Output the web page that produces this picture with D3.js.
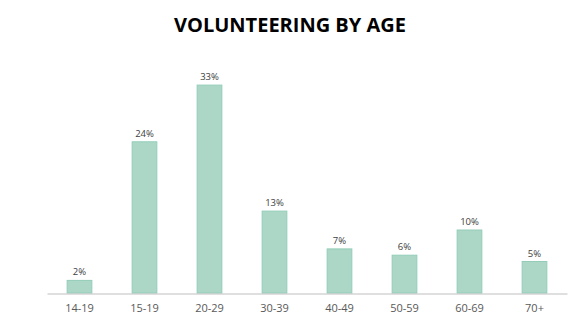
<!DOCTYPE html>
<html><head><meta charset="utf-8">
<script src="https://cdn.jsdelivr.net/npm/d3@7"></script>
<style>body{margin:0;background:#fff}svg{display:block}</style>
</head><body>
<script>
const categories = ["14-19","15-19","20-29","30-39","40-49","50-59","60-69","70+"];
const values = [2,24,33,13,7,6,10,5];
const valueLabels = ["2%","24%","33%","13%","7%","6%","10%","5%"];
const title = "VOLUNTEERING BY AGE";

const W=588,H=329;
const svg=d3.select("body").append("svg").attr("width",W).attr("height",H);
const x=d3.scaleBand().domain(categories).range([47,567]).paddingInner(0.62).paddingOuter(0.31);
const y=d3.scaleLinear().domain([0,35]).range([293,72.5]);

svg.append("text").attr("x",290).attr("y",32).attr("text-anchor","middle")
  .attr("font-family","'Open Sans', sans-serif").attr("font-weight","bold").attr("font-size",20)
  .attr("fill","#000").text(title);

svg.selectAll("rect.bar").data(values).join("rect").attr("class","bar")
  .attr("x",(d,i)=>x(categories[i])).attr("width",x.bandwidth())
  .attr("y",d=>y(d)).attr("height",d=>y(0)-y(d))
  .attr("fill","#acd7c7").attr("stroke","#93cdb8").attr("stroke-width",1);

svg.selectAll("text.val").data(values).join("text").attr("class","val")
  .attr("x",(d,i)=>x(categories[i])+x.bandwidth()/2).attr("y",d=>y(d)-5)
  .attr("text-anchor","middle").attr("font-family","'Open Sans', sans-serif").attr("font-size",9.5)
  .attr("fill","#404040").text((d,i)=>valueLabels[i]);

const ax=svg.append("g").attr("transform","translate(0,293.5)").call(d3.axisBottom(x).tickSize(0).tickPadding(11));
ax.select(".domain").attr("stroke","#bfbfbf").attr("stroke-width",1);
ax.selectAll("text").attr("font-family","'Open Sans', sans-serif").attr("font-size",11).attr("fill","#595959");
</script>
</body></html>
